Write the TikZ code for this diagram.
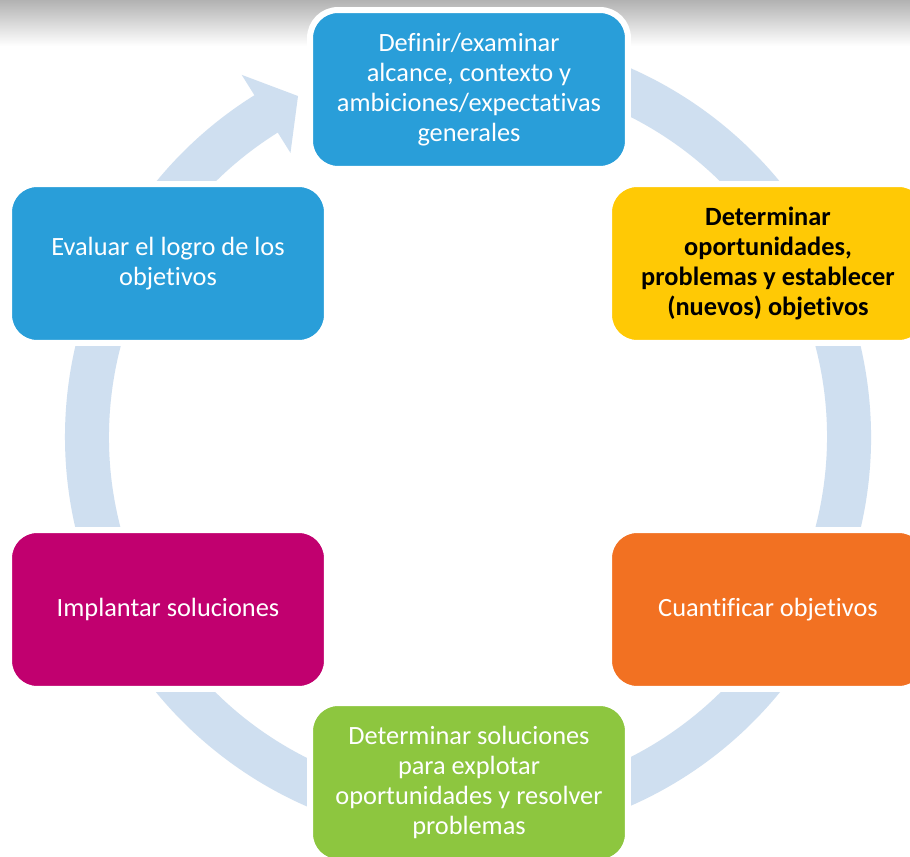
\documentclass[tikz,border=0pt]{standalone}
\usepackage{fontspec}
\setmainfont[Ligatures={NoCommon}]{Carlito}
\usetikzlibrary{calc}
\definecolor{boxblue}{RGB}{41,158,217}
\definecolor{boxyellow}{RGB}{255,201,5}
\definecolor{boxorange}{RGB}{242,113,34}
\definecolor{boxmagenta}{RGB}{193,0,111}
\definecolor{boxgreen}{RGB}{141,198,63}
\definecolor{ringblue}{RGB}{207,223,240}
\definecolor{shadowgray}{RGB}{178,178,178}
\begin{document}
\begin{tikzpicture}[x=0.02cm,y=0.02cm,
  stepbox/.style={draw=white, line width=0.12cm, rounded corners=0.56cm,
    minimum width=6.36cm, minimum height=3.18cm, inner sep=0pt,
    align=center, text=white, font=\fontsize{15}{17}\selectfont}]
\useasboundingbox (0,0) rectangle (910,-857);
\clip (0,0) rectangle (910,-857);
\fill[white] (0,0) rectangle (910,-857);
\shade[top color=shadowgray, bottom color=white] (0,0) rectangle (910,-46);
\coordinate (C) at (468,-437);
\fill[ringblue] ($(C)+(100:403)$) arc[start angle=100,end angle=-238,radius=403]
  -- ($(C)+(122:427)$) -- ($(C)+(116.5:381)$) -- ($(C)+(122:335)$)
  -- ($(C)+(122:359)$) arc[start angle=-238,end angle=100,radius=359] -- cycle;
\node[stepbox, fill=boxblue] (def) at (469,-89.5)
  {Definir/examinar\\alcance, contexto y\\ambiciones/expectativas\\generales};
\node[stepbox, fill=boxyellow, text=black, font=\fontsize{15}{17}\selectfont\bfseries] (det) at (768,-263.5)
  {Determinar\\oportunidades,\\problemas y establecer\\(nuevos) objetivos};
\node[stepbox, fill=boxorange] (cua) at (768,-609.5) {Cuantificar objetivos};
\node[stepbox, fill=boxgreen] (sol) at (469,-782.5)
  {Determinar soluciones\\para explotar\\oportunidades y resolver\\problemas};
\node[stepbox, fill=boxmagenta] (imp) at (168,-609.5) {Implantar soluciones};
\node[stepbox, fill=boxblue] (eva) at (168,-263.5) {Evaluar el logro de los\\objetivos};
\end{tikzpicture}
\end{document}
